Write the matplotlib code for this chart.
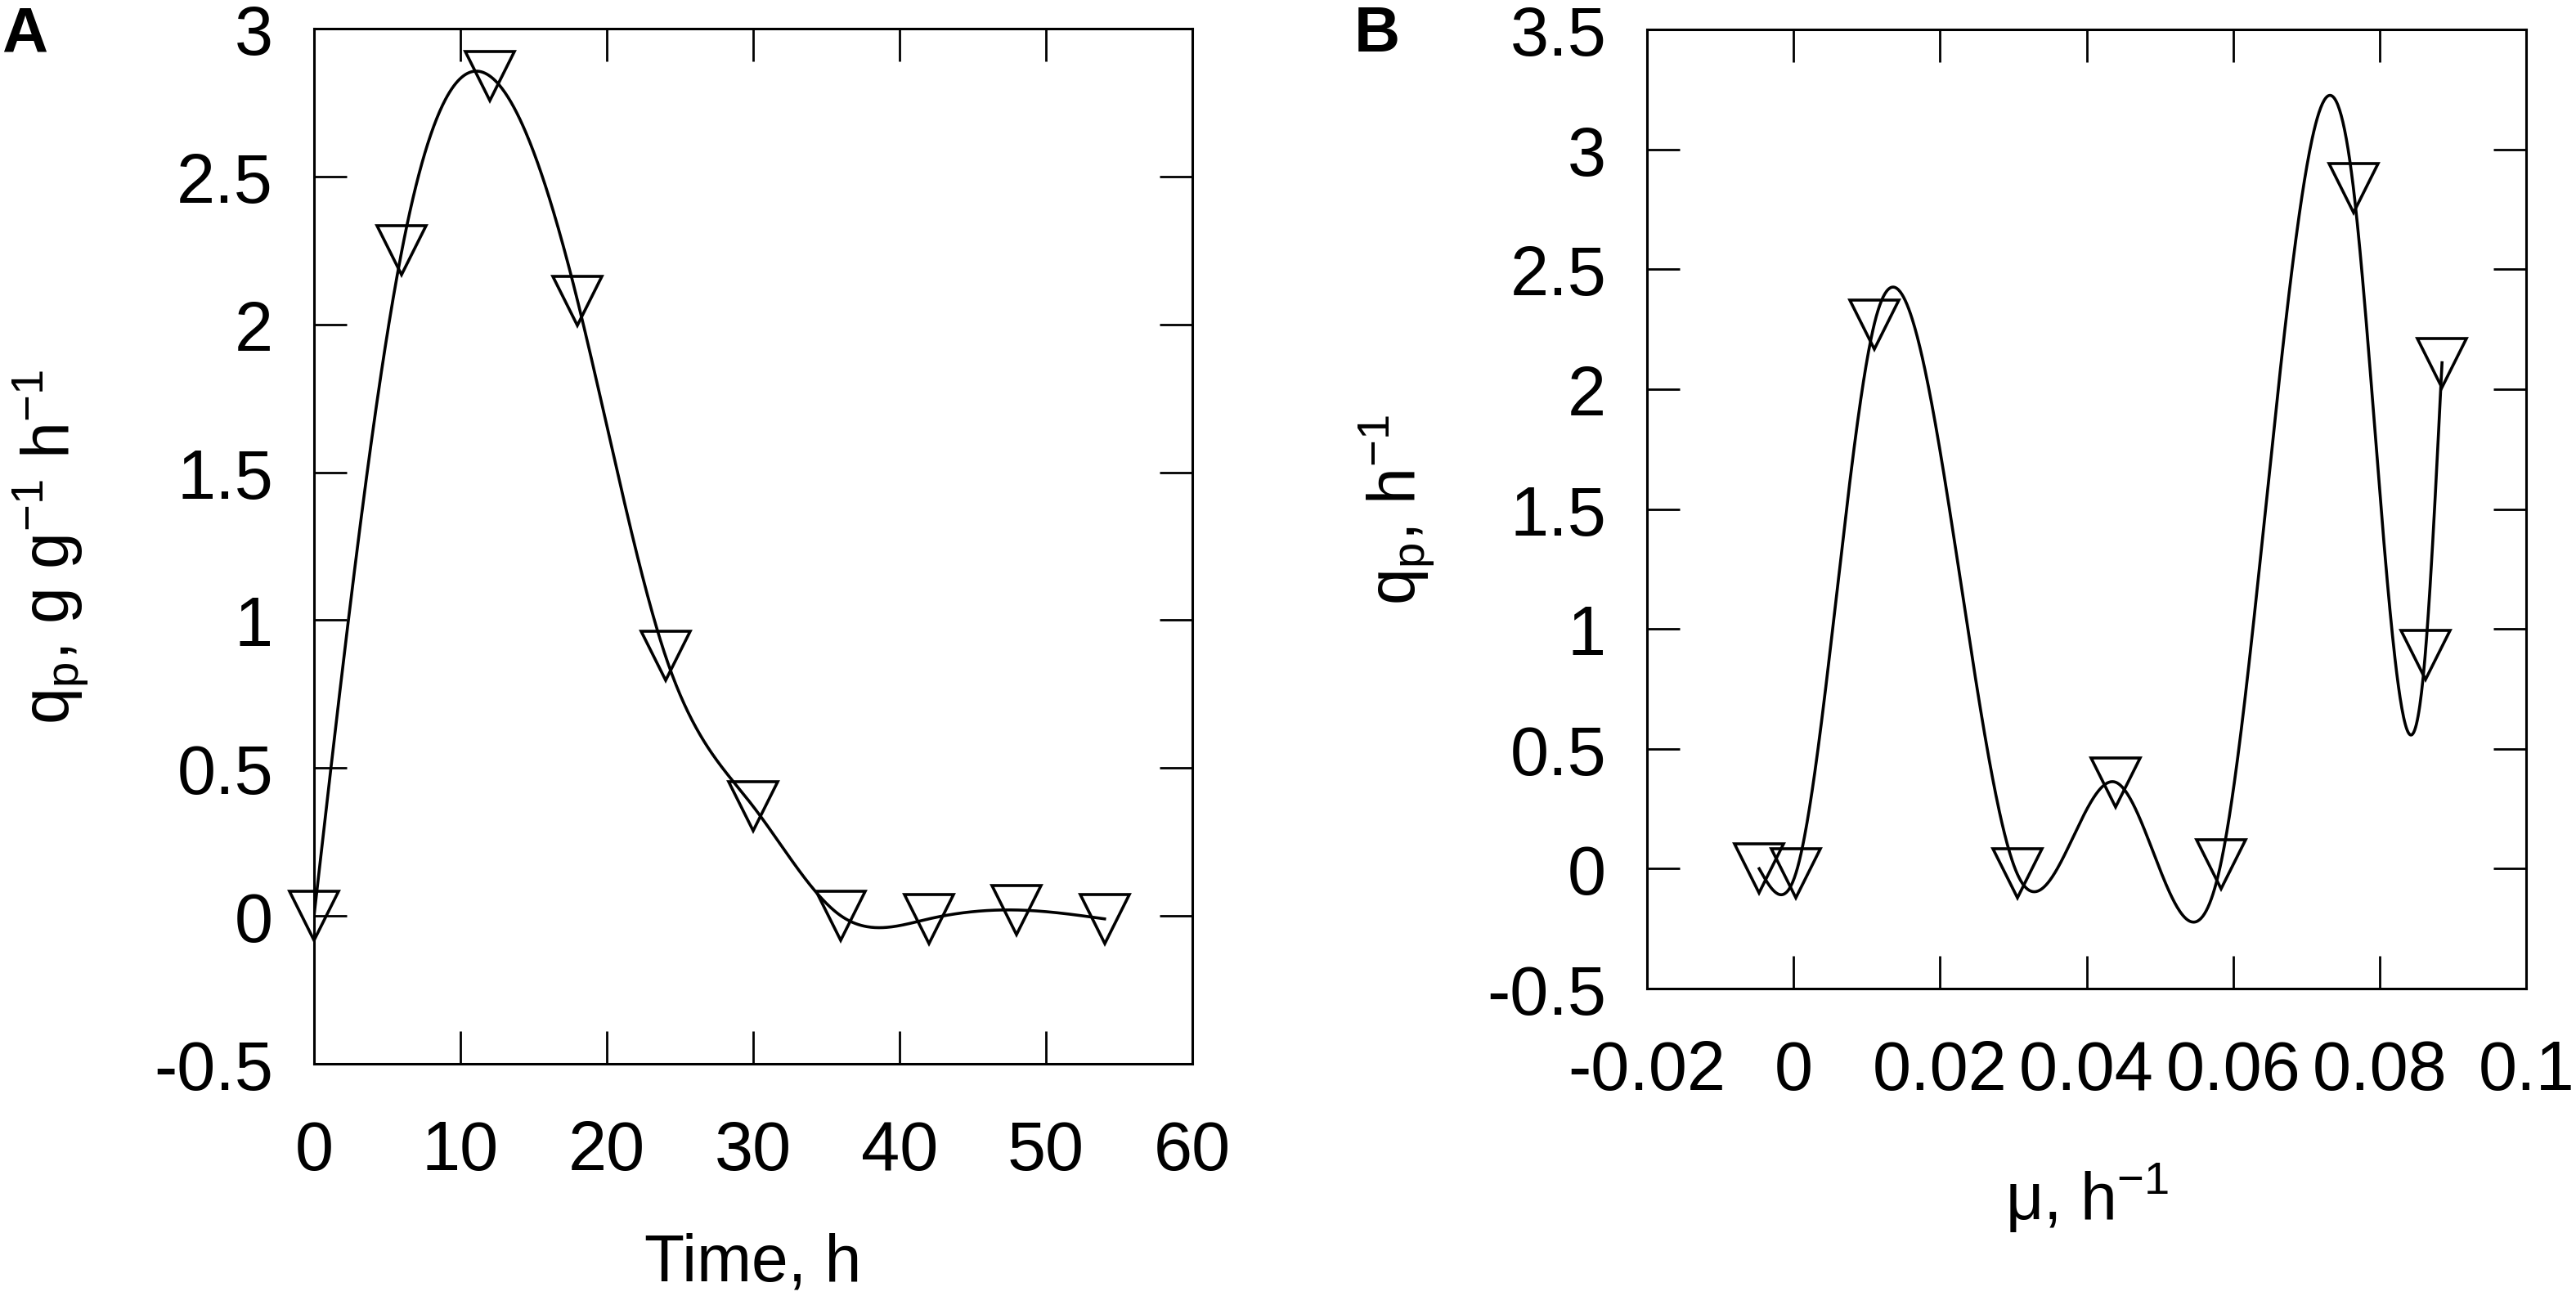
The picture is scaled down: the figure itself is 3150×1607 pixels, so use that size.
import numpy as np
import matplotlib
matplotlib.use("Agg")
import matplotlib.pyplot as plt
from matplotlib.ticker import FormatStrFormatter, MultipleLocator

plt.rcParams['font.family'] = ['Liberation Sans', 'DejaVu Sans']
plt.rcParams['mathtext.fontset'] = 'custom'
plt.rcParams['mathtext.rm'] = 'Liberation Sans'
plt.rcParams['mathtext.default'] = 'regular'

# panel A: specific production rate vs time
time_h = [0, 6, 12, 18, 24, 30, 36, 42, 48, 54]
qp_time = [0.0, 2.25, 2.84, 2.08, 0.88, 0.37, 0.0, -0.01, 0.02, -0.01]

# panel B: specific production rate vs specific growth rate
mu = [-0.0047, 0.0003, 0.011, 0.0305, 0.044, 0.0583, 0.0764, 0.0862, 0.0885]
qp_mu = [0.0, -0.02, 2.27, -0.02, 0.36, 0.02, 2.84, 0.89, 2.11]


def natural_spline(x, y, n=800):
    # natural cubic spline through the points (sorted by x)
    x = np.asarray(x, float)
    y = np.asarray(y, float)
    order = np.argsort(x)
    x, y = x[order], y[order]
    h = np.diff(x)
    m = len(x)
    A = np.zeros((m, m))
    r = np.zeros(m)
    A[0, 0] = A[-1, -1] = 1.0
    for i in range(1, m - 1):
        A[i, i - 1] = h[i - 1]
        A[i, i] = 2 * (h[i - 1] + h[i])
        A[i, i + 1] = h[i]
        r[i] = 6 * ((y[i + 1] - y[i]) / h[i] - (y[i] - y[i - 1]) / h[i - 1])
    M = np.linalg.solve(A, r)
    xs = np.linspace(x[0], x[-1], n)
    k = np.clip(np.searchsorted(x, xs) - 1, 0, m - 2)
    t0 = x[k + 1] - xs
    t1 = xs - x[k]
    hk = h[k]
    ys = ((M[k] * t0 ** 3 + M[k + 1] * t1 ** 3) / (6 * hk)
          + (y[k] / hk - M[k] * hk / 6) * t0
          + (y[k + 1] / hk - M[k + 1] * hk / 6) * t1)
    return xs, ys


fig = plt.figure(figsize=(31.5, 16.08), dpi=100)
axA = fig.add_axes([0.1219, 0.1903, 0.3410, 0.7873])
axB = fig.add_axes([0.6394, 0.2475, 0.3413, 0.7295])

fs_tick = 61
fs_lab = 58
for ax in (axA, axB):
    for s in ax.spines.values():
        s.set_linewidth(2.2)
    ax.tick_params(direction='in', length=29, width=2, top=True, right=True,
                   labelsize=fs_tick)
    ax.tick_params(axis='y', pad=36)

mk = dict(ls='none', marker='v', ms=43, mfc='none', mec='black', mew=2.6,
          clip_on=False, zorder=4)

# panel A
xs, ys = natural_spline(time_h, qp_time)
axA.plot(xs, ys, color='black', lw=2.6, zorder=3)
axA.plot(time_h, qp_time, **mk)
axA.set_xlim(0, 60)
axA.set_ylim(-0.5, 3)
axA.xaxis.set_major_locator(MultipleLocator(10))
axA.yaxis.set_major_locator(MultipleLocator(0.5))
axA.yaxis.set_major_formatter(FormatStrFormatter('%g'))
axA.tick_params(axis='x', pad=48)
axA.set_xlabel('Time, h', fontsize=fs_lab)
axA.set_ylabel('q$_p$, g g$^{-1}$ h$^{-1}$', fontsize=fs_lab)
axA.xaxis.set_label_coords(0.5, -0.162)
axA.yaxis.set_label_coords(-0.253, 0.5)

# panel B
xs, ys = natural_spline(mu, qp_mu)
axB.plot(xs, ys, color='black', lw=2.6, zorder=3)
axB.plot(mu, qp_mu, **mk)
axB.set_xlim(-0.02, 0.1)
axB.set_ylim(-0.5, 3.5)
axB.xaxis.set_major_locator(MultipleLocator(0.02))
axB.yaxis.set_major_locator(MultipleLocator(0.5))
axB.xaxis.set_major_formatter(FormatStrFormatter('%g'))
axB.yaxis.set_major_formatter(FormatStrFormatter('%g'))
axB.tick_params(axis='x', pad=44)
axB.set_xlabel('μ, h$^{-1}$', fontsize=fs_lab)
axB.set_ylabel('q$_p$, h$^{-1}$', fontsize=fs_lab)
axB.xaxis.set_label_coords(0.5, -0.178)
axB.yaxis.set_label_coords(-0.238, 0.5)

fig.text(0.0005, 0.996, 'A', fontsize=56, fontweight='bold', va='top', ha='left')
fig.text(0.5255, 0.996, 'B', fontsize=56, fontweight='bold', va='top', ha='left')

fig.savefig('out.png', dpi=100)
